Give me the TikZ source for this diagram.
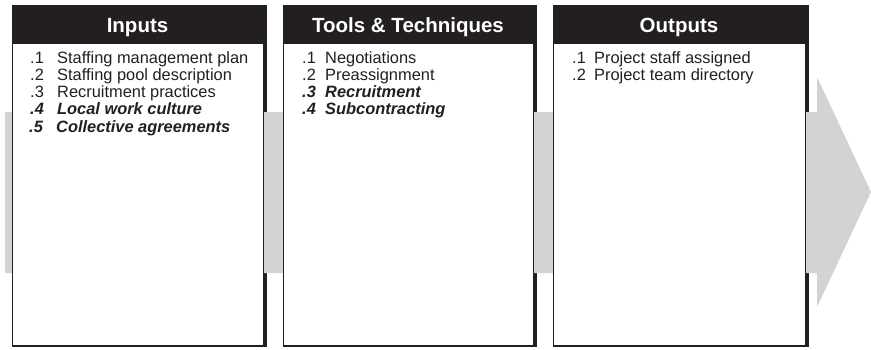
\documentclass[tikz,border=0pt]{standalone}
\usepackage{fontspec}
\setmainfont{Liberation Sans}
\definecolor{ink}{HTML}{231F20}
\definecolor{band}{HTML}{D1D3D4}
\begin{document}
\begin{tikzpicture}[x=1pt,y=-1pt,
  panel/.style={fill=white,draw=ink,line width=0.9pt},
  head/.style={text=white,font=\fontsize{20.5}{22}\selectfont\bfseries,anchor=base,inner sep=0},
  item/.style={text=ink,font=\fontsize{16.4}{17.2}\selectfont,anchor=base west,inner sep=0},
  keyitem/.style={item,font=\fontsize{16.4}{17.2}\selectfont\bfseries\itshape}]
\useasboundingbox (0,0) rectangle (871,349);
% black backings (header + shadow)
\fill[ink] (12,5) rectangle (267,347);
\fill[ink] (283,5) rectangle (537,347);
\fill[ink] (553,5) rectangle (809,347);
% grey flow arrow
\fill[band] (5,112) -- (817,112) -- (817,77) -- (871,192) -- (817,307) -- (817,273) -- (5,273) -- cycle;
% white panels
\filldraw[panel] (12,43) rectangle (263,345);
\filldraw[panel] (283,43) rectangle (533,345);
\filldraw[panel] (553,43) rectangle (805,345);
% headers
\node[head] (hin) at (137.5,32) {Inputs};
\node[head] (htt) at (408,32) {Tools \& Techniques};
\node[head] (hout) at (679,32) {Outputs};
% inputs
\node[item] (in1n) at (30,63.2) {.1};
\node[item] (in1) at (57,63.2) {Staffing management plan};
\node[item] (in2n) at (30,80.4) {.2};
\node[item] (in2) at (57,80.4) {Staffing pool description};
\node[item] (in3n) at (30,97.6) {.3};
\node[item] (in3) at (57,97.6) {Recruitment practices};
\node[keyitem] (in4n) at (30,114.8) {.4};
\node[keyitem] (in4) at (57,114.8) {Local work culture};
\node[keyitem] (in5n) at (29,132) {.5};
\node[keyitem] (in5) at (56,132) {Collective agreements};
% tools
\node[item] (tt1n) at (302,63.2) {.1};
\node[item] (tt1) at (325,63.2) {Negotiations};
\node[item] (tt2n) at (302,80.4) {.2};
\node[item] (tt2) at (325,80.4) {Preassignment};
\node[keyitem] (tt3n) at (302,97.6) {.3};
\node[keyitem] (tt3) at (325,97.6) {Recruitment};
\node[keyitem] (tt4n) at (302,114.8) {.4};
\node[keyitem] (tt4) at (325,114.8) {Subcontracting};
% outputs
\node[item] (out1n) at (572,63.2) {.1};
\node[item] (out1) at (594,63.2) {Project staff assigned};
\node[item] (out2n) at (572,80.4) {.2};
\node[item] (out2) at (594,80.4) {Project team directory};
\end{tikzpicture}
\end{document}
